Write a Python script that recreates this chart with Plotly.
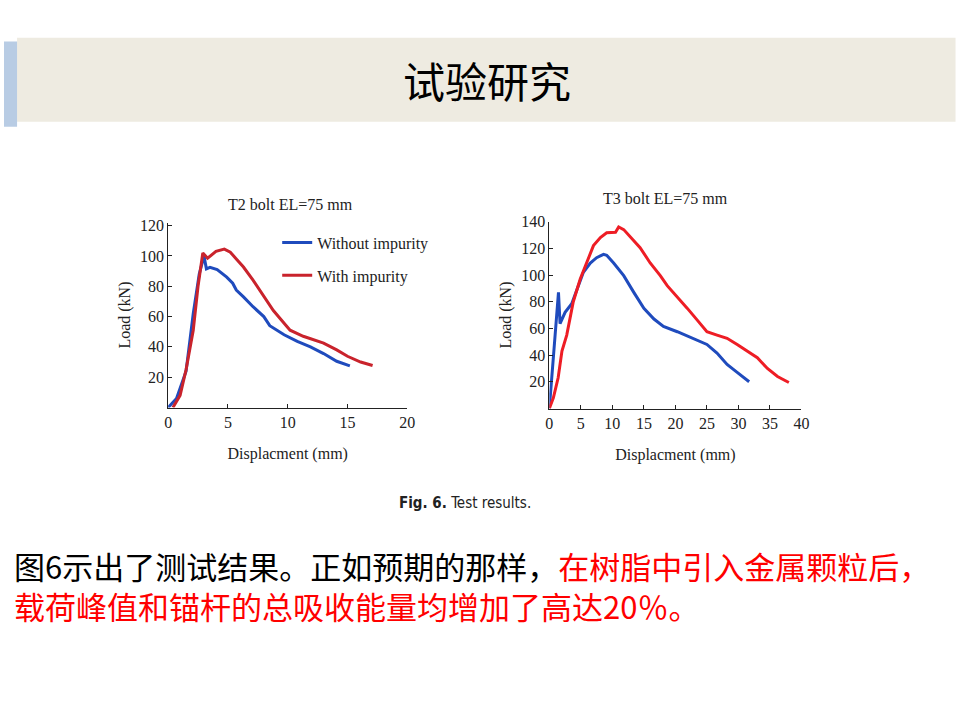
import plotly.graph_objects as go

# ---- data: T2 bolt ----
t2_without_x = [0, 0.7, 1.5, 2.1, 2.6, 3.0, 3.2, 3.5, 4.1, 4.9, 5.4, 5.7, 6.3, 7.1, 8.0, 8.5, 9.7, 10.8, 11.9, 13.0, 14.1, 15.2]
t2_without_y = [0, 6, 24, 62, 88, 100, 91.5, 92.5, 91, 86, 82, 77.5, 73, 66.5, 60, 54, 48, 43.6, 40, 35.6, 30.5, 27.5]
t2_with_x = [0.4, 1.0, 1.5, 2.1, 2.5, 2.9, 3.3, 4.0, 4.7, 5.2, 5.7, 6.3, 7.1, 8.0, 8.8, 9.7, 10.2, 11.3, 12.2, 13.0, 14.1, 15.0, 16.1, 17.1]
t2_with_y = [0, 8, 25, 51, 80, 102, 98.5, 103, 104.5, 102.5, 98, 92.7, 84, 73, 64, 55.6, 51, 47, 44.7, 42.5, 38, 33.8, 30, 27.7]

# ---- data: T3 bolt ----
t3_without_x = [0, 0.5, 1.0, 1.45, 1.7, 2.5, 3.55, 4.6, 5.4, 6.5, 7.5, 8.6, 9.1, 10.2, 11.8, 13.4, 15.0, 16.6, 18.1, 20.3, 22.4, 25.0, 26.6, 28.2, 29.8, 31.7]
t3_without_y = [0, 32, 62, 87, 63.5, 72, 78.5, 92, 102, 109, 113, 115.5, 114.8, 109, 99.5, 87, 75, 67, 61.5, 57.5, 53, 48, 41.5, 33, 27, 20]
t3_with_x = [0, 0.64, 1.4, 2.0, 2.76, 3.8, 4.9, 5.9, 7.0, 8.1, 9.1, 10.5, 11.0, 11.8, 12.8, 14.4, 16.0, 17.6, 18.7, 20.3, 21.9, 23.5, 25.0, 26.6, 28.2, 29.8, 31.4, 33.0, 34.6, 36.2, 38.0]
t3_with_y = [0, 8, 23, 43, 55, 80, 97, 109, 122, 128, 131.6, 132, 136, 134, 129, 120.5, 109, 99.5, 92, 83.7, 75, 66, 57.5, 55, 52.6, 48, 43, 38, 30, 24, 19.5]

series_names = ["Without impurity", "With impurity"]
t2_title = "T2 bolt EL=75 mm"
t3_title = "T3 bolt EL=75 mm"
x_title = "Displacment (mm)"
y_title = "Load (kN)"
t2_xticks = [0, 5, 10, 15, 20]
t2_yticks = [20, 40, 60, 80, 100, 120]
t3_xticks = [0, 5, 10, 15, 20, 25, 30, 35, 40]
t3_yticks = [20, 40, 60, 80, 100, 120, 140]

slide_title = "试验研究"
caption = "<b>Fig. 6.</b> Test results."
text_line1_black = "图6示出了测试结果。正如预期的那样，"
text_line1_red = "在树脂中引入金属颗粒后，"
text_line2_red = "载荷峰值和锚杆的总吸收能量均增加了高达20％。"

BLUE = "#1f4bbd"
RED_L = "#c9232c"
RED_R = "#ee1d25"
SERIF = "Liberation Serif"
CJK = "Noto Sans CJK SC"

W, H = 960, 720
# position helpers (target screen pixel -> paper fraction, with empirical correction)
def px(x):
    return ((x - 3.94) / 0.987) / W
def py(y):
    return 1 - (y - 6) / H

fig = go.Figure()
fig.add_trace(go.Scatter(x=t2_without_x, y=t2_without_y, mode="lines", name=series_names[0],
                         line=dict(color=BLUE, width=3), xaxis="x", yaxis="y", legendgroup="a"))
fig.add_trace(go.Scatter(x=t2_with_x, y=t2_with_y, mode="lines", name=series_names[1],
                         line=dict(color=RED_L, width=3), xaxis="x", yaxis="y", legendgroup="b"))
fig.add_trace(go.Scatter(x=t3_without_x, y=t3_without_y, mode="lines", name=series_names[0],
                         line=dict(color=BLUE, width=3), xaxis="x2", yaxis="y2", showlegend=False))
fig.add_trace(go.Scatter(x=t3_with_x, y=t3_with_y, mode="lines", name=series_names[1],
                         line=dict(color=RED_R, width=3), xaxis="x2", yaxis="y2", showlegend=False))

axis_common = dict(showline=True, linecolor="#222", linewidth=1, ticks="inside", ticklen=4,
                   tickcolor="#222", showgrid=False, zeroline=False,
                   tickfont=dict(family=SERIF, size=16, color="#222"))
title_font = dict(family=SERIF, size=16, color="#222")

fig.update_layout(
    width=W, height=H,
    margin=dict(l=0, r=0, t=0, b=0),
    paper_bgcolor="white", plot_bgcolor="white",
    showlegend=True,
    legend=dict(x=px(277), y=py(226), xanchor="left", yanchor="top",
                font=dict(family=SERIF, size=16, color="#222"),
                bgcolor="rgba(0,0,0,0)", itemwidth=30, tracegroupgap=9),
    xaxis=dict(domain=[px(168), px(407)], range=[0, 20], tickvals=t2_xticks, anchor="y",
               title=dict(text=x_title, font=title_font, standoff=18), **axis_common),
    yaxis=dict(domain=[py(410), py(223)], range=[0, 122], tickvals=t2_yticks, anchor="x",
               title=dict(text=y_title, font=title_font, standoff=5), **axis_common),
    xaxis2=dict(domain=[px(549), px(801)], range=[0, 40], tickvals=t3_xticks, anchor="y2",
                title=dict(text=x_title, font=title_font, standoff=18), **axis_common),
    yaxis2=dict(domain=[py(411), py(222)], range=[0, 140], tickvals=t3_yticks, anchor="x2",
                title=dict(text=y_title, font=title_font, standoff=5), **axis_common),
)

# slide decorations
fig.add_shape(type="rect", xref="paper", yref="paper", x0=px(17), x1=px(955), y0=py(121), y1=py(36),
              fillcolor="#eeebe1", line=dict(width=0), layer="below")
fig.add_shape(type="rect", xref="paper", yref="paper", x0=0, x1=px(17), y0=py(126), y1=py(40),
              fillcolor="#b8cce4", line=dict(width=0), layer="below")

ann = []
ann.append(dict(text=slide_title, x=px(487), y=py(78), xref="paper", yref="paper", showarrow=False,
                font=dict(family=CJK, size=42, color="black"), xanchor="center", yanchor="middle"))
ann.append(dict(text=t2_title, x=px(290), y=py(205), xref="paper", yref="paper", showarrow=False,
                font=title_font, xanchor="center", yanchor="middle"))
ann.append(dict(text=t3_title, x=px(665), y=py(199), xref="paper", yref="paper", showarrow=False,
                font=title_font, xanchor="center", yanchor="middle"))
ann.append(dict(text=caption, x=px(465), y=py(507), xref="paper", yref="paper", showarrow=False,
                font=dict(family="DejaVu Sans Condensed, DejaVu Sans", size=15, color="#222"),
                xanchor="center", yanchor="middle"))
ann.append(dict(text=text_line1_black + "<span style='color:#ff0000'>" + text_line1_red + "</span><br>"
                + "<span style='color:#ff0000'>" + text_line2_red + "</span>",
                x=px(12), y=py(589.5), xref="paper", yref="paper", showarrow=False, align="left",
                font=dict(family=CJK, size=31, color="black"), xanchor="left", yanchor="middle"))
fig.update_layout(annotations=ann)

fig.write_html("out.html", config={"displayModeBar": False},
               post_script="document.body.style.margin='0';document.body.style.overflow='hidden';")
